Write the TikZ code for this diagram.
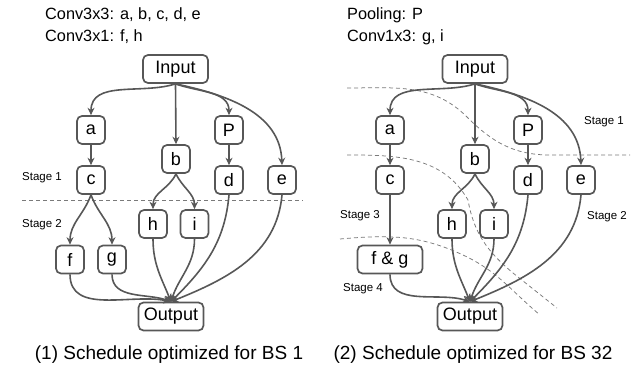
\documentclass[tikz,border=0pt]{standalone}
\usepackage{fontspec}
\setmainfont{Liberation Sans}
\usetikzlibrary{arrows.meta}
\definecolor{edgegray}{HTML}{575757}
\definecolor{cutgray}{HTML}{7A7A7A}

\begin{document}
\begin{tikzpicture}[x=1pt,y=1pt,
  blk/.style={draw=edgegray,line width=1.7pt,rounded corners=5pt,minimum width=28pt,minimum height=28pt,inner sep=1pt,font=\fontsize{18}{20}\selectfont},
  wide/.style={blk,minimum width=65pt},
  arr/.style={draw=edgegray,line width=1.6pt,-{Stealth[length=7.5pt,width=7pt,inset=2.5pt]}},
  cut/.style={draw=cutgray,line width=0.75pt,dash pattern=on 4pt off 3pt},
  stg/.style={anchor=west,inner sep=0pt,font=\fontsize{11.5}{13}\selectfont},
  hdr/.style={anchor=west,inner sep=0pt,font=\fontsize{16.3}{18}\selectfont},
  captxt/.style={inner sep=0pt,font=\fontsize{19}{21}\selectfont}]%
\useasboundingbox (0,0) rectangle (635,-366);%
% (1) schedule for BS 1
\node[hdr] (hd1) at (45,-15) {Conv3x3: a, b, c, d, e};%
\node[hdr] (hd2) at (45,-37) {Conv3x1: f, h};%
\node[wide] (in1) at (175.5,-69) {Input};%
\node[blk] (a1) at (91,-130) {a};%
\node[blk] (b1) at (176,-159) {b};%
\node[blk] (p1) at (229,-130) {P};%
\node[blk] (c1) at (91,-180) {c};%
\node[blk] (d1) at (229,-180) {d};%
\node[blk] (e1) at (282,-180) {e};%
\node[blk] (h1) at (153,-224) {h};%
\node[blk] (i1) at (194.5,-224) {i};%
\node[blk] (f1) at (70,-259.5) {f};%
\node[blk] (g1) at (112,-259.5) {g};%
\node[wide] (out1) at (171,-316.5) {Output};%
\node[captxt] (cap1) at (169,-355) {(1) Schedule optimized for BS 1};%
\node[stg] (s11) at (22,-178) {Stage 1};%
\node[stg] (s12) at (22,-225) {Stage 2};%
\draw[cut] (22,-200) -- (303,-200);%
\draw[arr] (in1.south) to[out=-162,in=90] (a1.north);%
\draw[arr] (in1.south) -- (b1.north);%
\draw[arr] (in1.south) to[out=-20,in=90] (p1.north);%
\draw[arr] (in1.south) to[out=-12,in=92] (e1.north);%
\draw[arr] (a1) -- (c1);%
\draw[arr] (p1) -- (d1);%
\draw[arr] (b1.south) to[out=-115,in=90] (h1.north);%
\draw[arr] (b1.south) to[out=-65,in=90] (i1.north);%
\draw[arr] (c1.south) to[out=-110,in=90] (f1.north);%
\draw[arr] (c1.south) to[out=-70,in=90] (g1.north);%
\draw[arr] (f1.south) to[out=-90,in=168] (out1.north);%
\draw[arr] (g1.south) to[out=-90,in=160] (out1.north);%
\draw[arr] (h1.south) to[out=-90,in=112] (out1.north);%
\draw[arr] (i1.south) to[out=-90,in=72] (out1.north);%
\draw[arr] (d1.south) to[out=-95,in=45] (out1.north);%
\draw[arr] (e1.south) to[out=-95,in=22] (out1.north);%
% (2) schedule for BS 32
\node[hdr] (hd3) at (347,-15) {Pooling: P};%
\node[hdr] (hd4) at (347,-37) {Conv1x3: g, i};%
\node[wide] (in2) at (475,-69) {Input};%
\node[blk] (a2) at (390,-130) {a};%
\node[blk] (b2) at (475,-159) {b};%
\node[blk] (p2) at (528,-130) {P};%
\node[blk] (c2) at (390,-180) {c};%
\node[blk] (d2) at (528,-180) {d};%
\node[blk] (e2) at (581,-180) {e};%
\node[blk] (h2) at (452,-224) {h};%
\node[blk] (i2) at (494,-224) {i};%
\node[wide] (fg2) at (390,-259.5) {f \& g};%
\node[wide] (out2) at (470,-316.5) {Output};%
\node[captxt] (cap2) at (473,-355) {(2) Schedule optimized for BS 32};%
\node[stg] (s21) at (584,-122) {Stage 1};%
\node[stg] (s22) at (587,-217) {Stage 2};%
\node[stg] (s23) at (340,-216) {Stage 3};%
\node[stg] (s24) at (343,-289) {Stage 4};%
% stage cuts
\draw[cut] (347,-88) to[out=0,in=135] (467,-117) to[out=-45,in=180] (550,-155) -- (630,-155);%
\draw[cut] (347,-155) to[out=0,in=120] (468,-200) to[out=-80,in=140] (513,-273) -- (557,-308);%
\draw[cut] (340,-239) to[out=5,in=155] (463,-255) to[out=-25,in=140] (540,-315);%
\draw[arr] (in2.south) to[out=-162,in=90] (a2.north);%
\draw[arr] (in2.south) -- (b2.north);%
\draw[arr] (in2.south) to[out=-20,in=90] (p2.north);%
\draw[arr] (in2.south) to[out=-12,in=92] (e2.north);%
\draw[arr] (a2) -- (c2);%
\draw[arr] (p2) -- (d2);%
\draw[arr] (b2.south) to[out=-115,in=90] (h2.north);%
\draw[arr] (b2.south) to[out=-65,in=90] (i2.north);%
\draw[arr] (c2) -- (fg2);%
\draw[arr] (fg2.south) to[out=-90,in=162] (out2.north);%
\draw[arr] (h2.south) to[out=-90,in=112] (out2.north);%
\draw[arr] (i2.south) to[out=-90,in=72] (out2.north);%
\draw[arr] (d2.south) to[out=-95,in=45] (out2.north);%
\draw[arr] (e2.south) to[out=-95,in=22] (out2.north);%
\end{tikzpicture}
\end{document}
